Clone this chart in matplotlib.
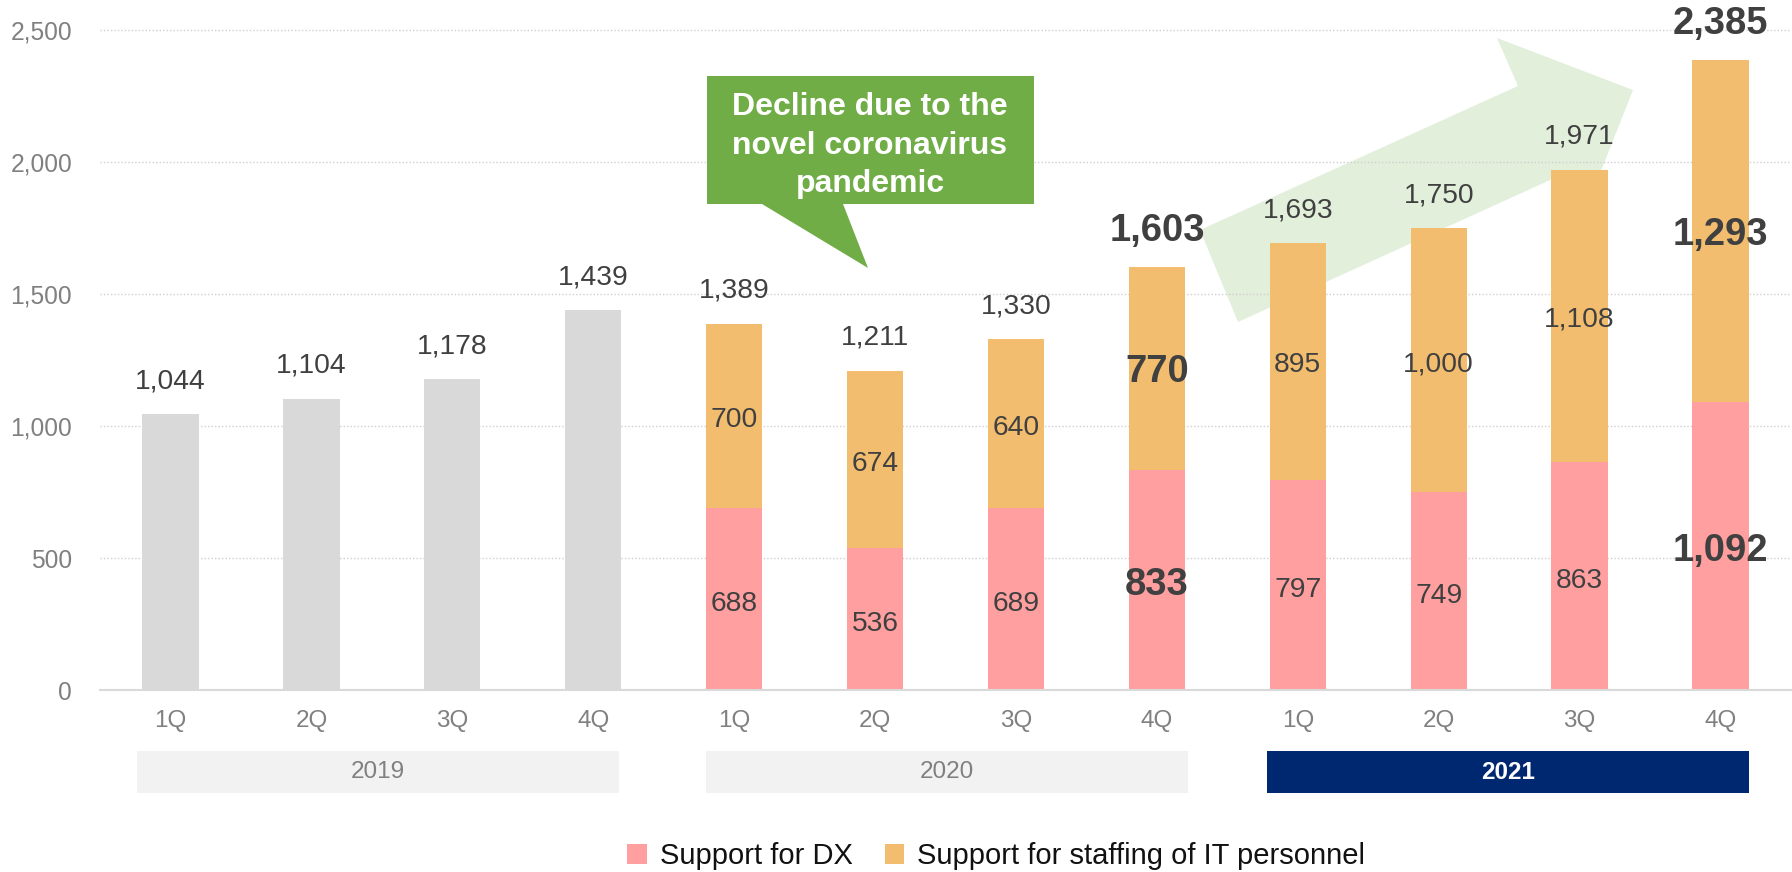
import numpy as np
import matplotlib
matplotlib.use("Agg")
import matplotlib.pyplot as plt
from matplotlib.patches import Polygon, Rectangle, Patch
from matplotlib.transforms import blended_transform_factory
from matplotlib.ticker import FuncFormatter

plt.rcParams['font.family'] = ['Liberation Sans', 'DejaVu Sans']

# ---- data -------------------------------------------------------------
quarters = ["1Q", "2Q", "3Q", "4Q"] * 3
years = ["2019", "2020", "2021"]
sales_2019 = [1044, 1104, 1178, 1439]
dx_support = [688, 536, 689, 833, 797, 749, 863, 1092]
it_staffing = [700, 674, 640, 770, 895, 1000, 1108, 1293]
total_labels = [1044, 1104, 1178, 1439, 1389, 1211, 1330, 1603,
                1693, 1750, 1971, 2385]
bold_idx = [7, 11]
callout_text = "Decline due to the\nnovel coronavirus\npandemic"
legend_labels = ["Support for DX", "Support for staffing of IT personnel"]

# ---- style ------------------------------------------------------------
GRAY_BAR = "#d9d9d9"
PINK = "#ff9f9f"
ORANGE = "#f2bd6e"
VALUE_C = "#404040"
AXIS_C = "#808080"
W, H = 1792, 872
FS_NORMAL, FS_BOLD = 20.3, 27.5

fig = plt.figure(figsize=(W / 100, H / 100), dpi=100)
ax = fig.add_axes([100 / W, (H - 690) / H, 1691 / W, 690 / H])


def px(x, y):
    """pixel position (origin top-left) -> figure fraction"""
    return (x / W, 1 - y / H)


x = np.arange(len(quarters))
x19, x2x = x[:4], x[4:]
bw = 0.4

ax.bar(x19, sales_2019, width=bw, color=GRAY_BAR, zorder=2)
ax.bar(x2x, dx_support, width=bw, color=PINK, zorder=2)
ax.bar(x2x, it_staffing, width=bw, bottom=dx_support, color=ORANGE, zorder=2)

ax.set_xlim(-0.5, 11.5)
ax.set_ylim(0, 690 / 0.264)

# axes styling
for s in ["top", "right", "left"]:
    ax.spines[s].set_visible(False)
ax.spines["bottom"].set_color("#d9d9d9")
ax.spines["bottom"].set_linewidth(1.5)
ax.spines["bottom"].set_zorder(3)
ax.set_yticks(np.arange(0, 2501, 500))
ax.yaxis.set_major_formatter(FuncFormatter(lambda v, p: f"{int(v):,}"))
ax.tick_params(axis="y", length=0, pad=20, labelsize=17.7, labelcolor=AXIS_C)
ax.set_xticks(x)
ax.set_xticklabels(quarters)
ax.tick_params(axis="x", length=0, pad=14.5, labelsize=17.5, labelcolor=AXIS_C)
ax.set_axisbelow(True)
ax.yaxis.grid(True, linestyle=(0, (1, 1.5)), color="#cfcfcf", linewidth=1)

# ---- value labels -----------------------------------------------------
tops = list(sales_2019) + [d + i for d, i in zip(dx_support, it_staffing)]
for i, (xi, top, lab) in enumerate(zip(x, tops, total_labels)):
    bold = i in bold_idx
    ax.annotate(f"{lab:,}", xy=(xi, top), xytext=(0, 36 if bold else 33),
                textcoords="offset pixels", ha="center", va="center",
                fontsize=FS_BOLD if bold else FS_NORMAL,
                fontweight="bold" if bold else "normal",
                color=VALUE_C, zorder=5, annotation_clip=False)

for j, (xi, d, it) in enumerate(zip(x2x, dx_support, it_staffing)):
    bold = (j + 4) in bold_idx
    kw = dict(textcoords="offset pixels", ha="center", va="center",
              fontsize=FS_BOLD if bold else FS_NORMAL,
              fontweight="bold" if bold else "normal",
              color=VALUE_C, zorder=5)
    ax.annotate(f"{d:,}", xy=(xi, d / 2), xytext=(0, -5), **kw)
    ax.annotate(f"{it:,}", xy=(xi, d + it / 2), xytext=(0, -4), **kw)

# ---- year bands below the quarter labels -----------------------------
btrans = blended_transform_factory(ax.transData, fig.transFigure)
y0, y1 = 1 - 793 / H, 1 - 751 / H
band_pad = [(-0.24, 0.18), (-0.20, 0.22), (-0.22, 0.20)]
for g, yr in enumerate(years):
    left, right = 4 * g + band_pad[g][0], 4 * g + 3 + band_pad[g][1]
    current = g == len(years) - 1
    ax.add_patch(Rectangle((left, y0), right - left, y1 - y0,
                           transform=btrans, clip_on=False,
                           facecolor="#002870" if current else "#f2f2f2",
                           edgecolor="none"))
    ax.text((left + right) / 2, (y0 + y1) / 2, yr, transform=btrans,
            ha="center", va="center", fontsize=17.5,
            fontweight="bold" if current else "normal",
            color="white" if current else AXIS_C)

# ---- growth arrow (behind bars) ---------------------------------------
arrow_px = [(1238, 322), (1200, 230), (1518, 86), (1497, 38),
            (1633, 90), (1580, 224), (1559, 176)]
ax.add_patch(Polygon([px(*p) for p in arrow_px], closed=True,
                     transform=fig.transFigure, facecolor="#e2efda",
                     edgecolor="none", zorder=0.2, clip_on=False))

# ---- speech-bubble callout --------------------------------------------
bubble_px = [(707, 76), (1034, 76), (1034, 204), (843, 204), (868, 268),
             (762, 204), (707, 204)]
ax.add_patch(Polygon([px(*p) for p in bubble_px], closed=True,
                     transform=fig.transFigure, facecolor="#70ad47",
                     edgecolor="none", zorder=4, clip_on=False))
ax.text(*px(870, 145.5), callout_text, transform=fig.transFigure,
        ha="center", va="center", fontsize=23, fontweight="bold",
        color="white", linespacing=1.38, zorder=6)

# ---- legend -----------------------------------------------------------
handles = [Patch(facecolor=PINK, edgecolor="none"),
           Patch(facecolor=ORANGE, edgecolor="none")]
fig.legend(handles, legend_labels, loc="center",
           bbox_to_anchor=(0.556, 1 - 856 / H), ncol=2, frameon=False,
           fontsize=21, handlelength=0.66, handleheight=0.66,
           handletextpad=0.45, columnspacing=1.1, labelcolor="#111111")

fig.savefig("out.png", dpi=100)
